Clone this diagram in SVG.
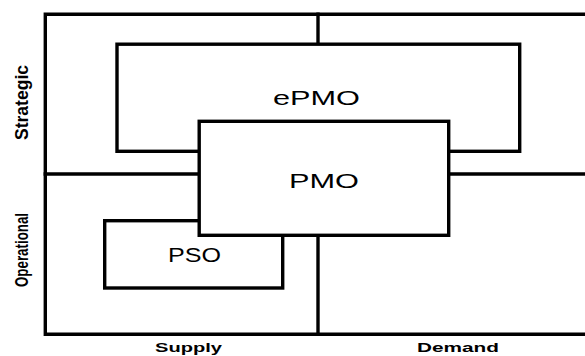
<svg xmlns="http://www.w3.org/2000/svg" width="585" height="356" viewBox="0 0 585 356">
<style>
.ln{fill:none;stroke:#000;stroke-width:3.4;stroke-linecap:square}
.box{fill:#fff;stroke:#000;stroke-width:3.4}
.big{font-family:"Liberation Sans",Arial,sans-serif;font-size:20px;fill:#000;text-anchor:middle}
.ax{font-family:"Liberation Sans",Arial,sans-serif;font-weight:bold;font-size:12.5px;fill:#000;text-anchor:middle}
</style>
<rect width="585" height="356" fill="#fff"/>
<g id="grid">
<path class="ln" d="M587,14.2 H45.3 V334.2 H587"/>
<line class="ln" x1="318" y1="14.2" x2="318" y2="334.2"/>
<line class="ln" x1="45.3" y1="174" x2="587" y2="174"/>
</g>
<g id="ePMO">
<rect class="box" x="117" y="44.2" width="402.7" height="107.1"/>
<text class="big" x="316.5" y="105" textLength="87" lengthAdjust="spacingAndGlyphs">ePMO</text>
</g>
<g id="PSO">
<rect class="box" x="104.7" y="220.7" width="178" height="67.3"/>
<text class="big" x="194.5" y="262" textLength="53" lengthAdjust="spacingAndGlyphs">PSO</text>
</g>
<g id="PMO">
<rect class="box" x="199.2" y="121.3" width="249.5" height="114"/>
<text class="big" x="324" y="188" textLength="70" lengthAdjust="spacingAndGlyphs">PMO</text>
</g>
<g id="labels">
<text class="ax" transform="translate(28,102.5) scale(1.45,1) rotate(-90)" x="0" y="0" textLength="75" lengthAdjust="spacingAndGlyphs">Strategic</text>
<text class="ax" transform="translate(28,250) scale(1.45,1) rotate(-90)" x="0" y="0" textLength="74" lengthAdjust="spacingAndGlyphs">Operational</text>
<text class="ax" x="188.5" y="352" textLength="67" lengthAdjust="spacingAndGlyphs">Supply</text>
<text class="ax" x="458" y="352" textLength="82" lengthAdjust="spacingAndGlyphs">Demand</text>
</g>
</svg>
